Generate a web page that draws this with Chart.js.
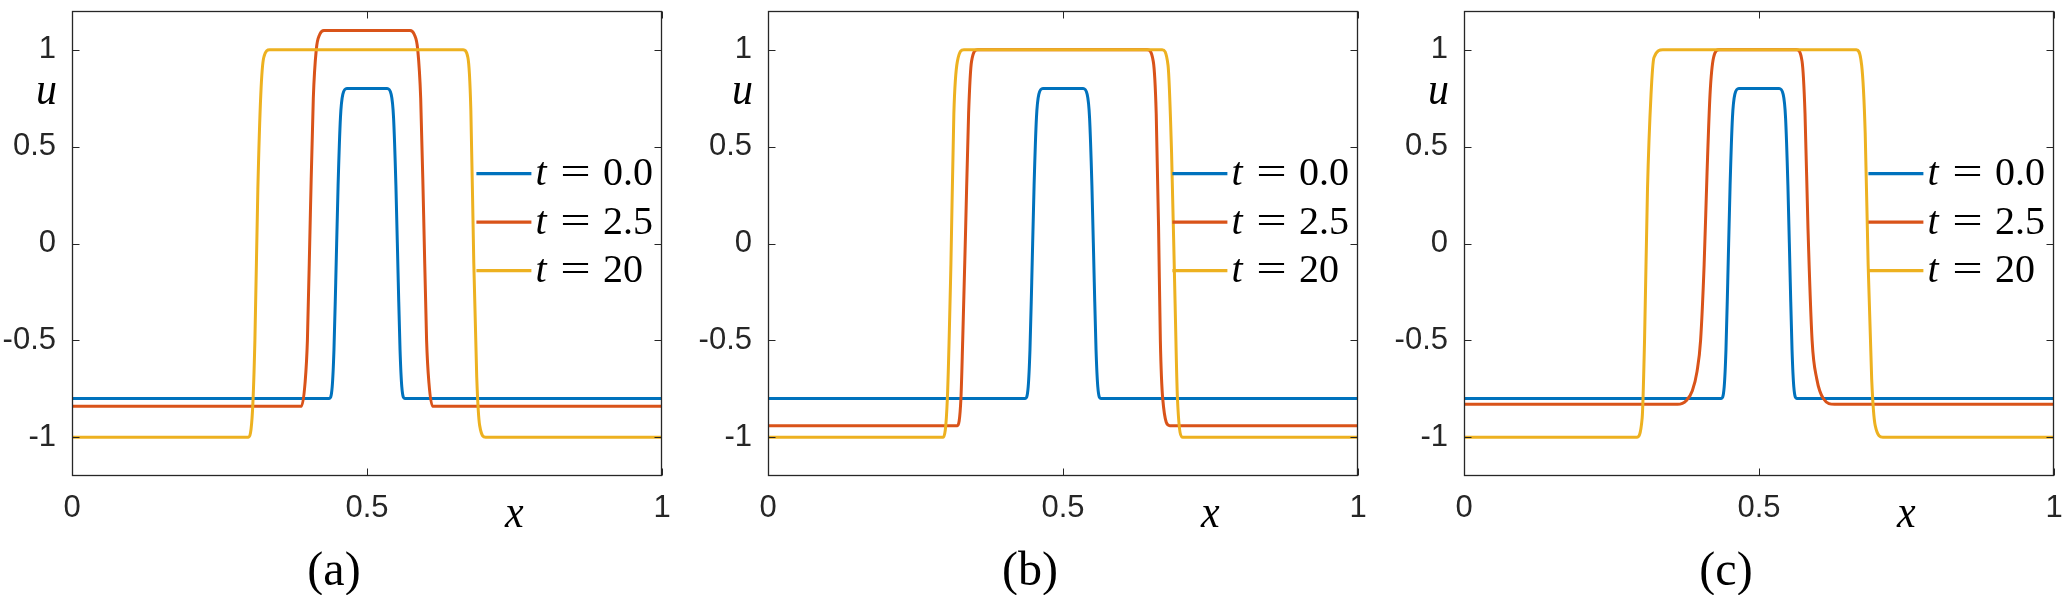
<!DOCTYPE html>
<html><head><meta charset="utf-8">
<script src="https://cdn.jsdelivr.net/npm/chart.js@4.4.1/dist/chart.umd.min.js"></script>
<style>
html,body{margin:0;padding:0;background:#fff;width:2069px;height:595px;overflow:hidden;}
canvas{position:absolute;top:0;}
</style></head><body>
<canvas id="pa" style="left:0px" width="696" height="595"></canvas>
<canvas id="pb" style="left:696px" width="696" height="595"></canvas>
<canvas id="pc" style="left:1392px" width="677" height="595"></canvas>
<script>
// ---------- data ----------
const xTicks = [0, 0.5, 1];
const yTicks = [-1, -0.5, 0, 0.5, 1];
const xRange = [0, 1];
const yRange = [-1.2, 1.2];
const seriesLabels = ['t = 0.0', 't = 2.5', 't = 20'];
const seriesColors = ['#0072BD', '#D95319', '#EDB120'];
const panelCaptions = ['(a)', '(b)', '(c)'];

// t = 0.0 : same initial profile in all three panels
const t0X = [0, 0.436, 0.441, 0.444, 0.447, 0.451, 0.455, 0.459, 0.466, 0.534, 0.541, 0.545, 0.549, 0.553, 0.556, 0.559, 0.564, 1];
const t0Y = [-0.8, -0.8, -0.74, -0.55, -0.2, 0.3, 0.65, 0.77, 0.8, 0.8, 0.77, 0.65, 0.3, -0.2, -0.55, -0.74, -0.8, -0.8];

// panel (a)
const aT25X = [0, 0.389, 0.395, 0.399, 0.404, 0.409, 0.414, 0.420, 0.427, 0.573, 0.580, 0.586, 0.591, 0.596, 0.601, 0.605, 0.611, 1];
const aT25Y = [-0.84, -0.84, -0.72, -0.5, 0.15, 0.75, 1.0, 1.08, 1.1, 1.1, 1.08, 1.0, 0.75, 0.15, -0.5, -0.72, -0.84, -0.84];
const aT20X = [0, 0.299, 0.306, 0.310, 0.315, 0.320, 0.325, 0.335, 0.663, 0.671, 0.676, 0.681, 0.686, 0.691, 0.701, 1];
const aT20Y = [-1, -1, -0.86, -0.5, 0.28, 0.77, 0.96, 1, 1, 0.96, 0.69, -0.1, -0.69, -0.94, -1, -1];

// panel (b)
const bT25X = [0, 0.321, 0.327, 0.330, 0.335, 0.340, 0.345, 0.355, 0.643, 0.653, 0.658, 0.662, 0.665, 0.669, 0.681, 1];
const bT25Y = [-0.94, -0.94, -0.8, -0.5, 0.08, 0.67, 0.94, 1, 1, 0.94, 0.67, 0.08, -0.5, -0.8, -0.94, -0.94];
const bT20X = [0, 0.297, 0.304, 0.310, 0.315, 0.321, 0.332, 0.668, 0.678, 0.684, 0.690, 0.694, 0.703, 1];
const bT20Y = [-1, -1, -0.8, -0.11, 0.67, 0.94, 1, 1, 0.92, 0.47, -0.31, -0.8, -1, -1];

// panel (c)
const cT25X = [0, 0.362, 0.377, 0.387, 0.395, 0.401, 0.407, 0.412, 0.417, 0.423, 0.432, 0.564, 0.573, 0.578, 0.583, 0.590, 0.598, 0.609, 0.628, 1];
const cT25Y = [-0.83, -0.83, -0.81, -0.76, -0.66, -0.5, -0.11, 0.37, 0.77, 0.96, 1, 1, 0.94, 0.67, 0.08, -0.5, -0.7, -0.8, -0.83, -0.83];
const cT20X = [0, 0.293, 0.302, 0.306, 0.311, 0.317, 0.322, 0.337, 0.665, 0.674, 0.680, 0.685, 0.691, 0.697, 0.710, 1];
const cT20Y = [-1, -1, -0.9, -0.5, 0.28, 0.77, 0.96, 1, 1, 0.92, 0.57, -0.11, -0.7, -0.94, -1, -1];

// ---------- drawing ----------
const axisColor = '#262626';
const sansFont = '"Liberation Sans", Arial, Helvetica, sans-serif';
const serifFont = '"Liberation Serif", "Times New Roman", serif';

function pts(xs, ys) { return xs.map((x, i) => ({ x: x, y: ys[i] })); }

function drawText(ctx, text, font, x, y, align, sx, sy) {
  ctx.save();
  ctx.translate(x, y);
  ctx.scale(sx, sy);
  ctx.font = font;
  ctx.textAlign = align;
  ctx.textBaseline = 'alphabetic';
  ctx.fillStyle = '#000';
  ctx.fillText(text, 0, 0);
  ctx.restore();
}

const boxPlugin = {
  id: 'matlabBox',
  afterDraw(chart, args, opts) {
    const ctx = chart.ctx;
    const ca = chart.chartArea;
    const xs = chart.scales.x, ys = chart.scales.y;
    ctx.save();
    // frame
    ctx.strokeStyle = axisColor;
    ctx.lineWidth = 1.3;
    const L = Math.round(ca.left) + 0.5, R = Math.round(ca.right) - 0.5;
    const T = Math.round(ca.top) + 0.5, B = Math.round(ca.bottom) - 0.5;
    ctx.strokeRect(L, T, R - L, B - T);
    // inward ticks
    const tl = 7;
    ctx.lineWidth = 1;
    ctx.beginPath();
    xTicks.forEach(v => {
      const px = Math.round(xs.getPixelForValue(v)) + 0.5;
      ctx.moveTo(px, B); ctx.lineTo(px, B - tl);
      ctx.moveTo(px, T); ctx.lineTo(px, T + tl);
    });
    yTicks.forEach(v => {
      const py = Math.round(ys.getPixelForValue(v)) + 0.5;
      ctx.moveTo(L, py); ctx.lineTo(L + tl, py);
      ctx.moveTo(R, py); ctx.lineTo(R - tl, py);
    });
    ctx.stroke();

    // legend
    const ds = chart.data.datasets;
    ds.forEach((d, i) => {
      const rowY = ca.top + 162.7 + i * 48.5;
      ctx.strokeStyle = d.borderColor;
      ctx.lineWidth = 3.2;
      ctx.beginPath();
      ctx.moveTo(ca.left + 404.4, rowY);
      ctx.lineTo(ca.left + 459.4, rowY);
      ctx.stroke();
      const parts = d.label.split(' = ');
      const base = rowY + 11.7;
      drawText(ctx, parts[0], 'italic 40px ' + serifFont, ca.left + 463.5, base, 'left', 1, 1);
      drawText(ctx, '=', '40px ' + serifFont, ca.left + 503.5, base, 'center', 1.35, 1);
      drawText(ctx, parts[1], '40px ' + serifFont, ca.left + 531, base, 'left', 1, 1);
    });

    // axis labels
    drawText(ctx, 'x', 'italic 42px ' + serifFont, ca.left + 442.2, 526.5, 'center', 1, 1.12);
    drawText(ctx, 'u', 'italic 42px ' + serifFont, ca.left - 25.6, ca.top + 92.6, 'center', 1, 1.12);
    // caption
    drawText(ctx, opts.caption, '48px ' + serifFont, ca.left + 262, 584.5, 'center', 1, 1);
    ctx.restore();
  }
};

function makePanel(id, redX, redY, yelX, yelY, caption, canvasW) {
  const series = [
    { xs: t0X, ys: t0Y },
    { xs: redX, ys: redY },
    { xs: yelX, ys: yelY }
  ];
  const datasets = series.map((s, i) => ({
    label: seriesLabels[i],
    data: pts(s.xs, s.ys),
    borderColor: seriesColors[i],
    backgroundColor: seriesColors[i],
    borderWidth: 3,
    pointRadius: 0,
    fill: false,
    cubicInterpolationMode: 'monotone',
    order: 2 - i
  }));
  const tickFont = { family: sansFont, size: 31 };
  return new Chart(document.getElementById(id), {
    type: 'line',
    data: { datasets: datasets },
    options: {
      responsive: false,
      animation: false,
      events: [],
      layout: { autoPadding: false, padding: { left: 0, right: canvasW - 662, top: 11, bottom: 0 } },
      plugins: {
        legend: { display: false },
        tooltip: { enabled: false },
        matlabBox: { caption: caption }
      },
      scales: {
        x: {
          type: 'linear', min: xRange[0], max: xRange[1],
          afterBuildTicks: s => { s.ticks = xTicks.map(v => ({ value: v })); },
          afterFit: s => { s.height = 119; s.paddingLeft = 0; s.paddingRight = 0; },
          grid: { display: false, drawTicks: false },
          border: { display: false },
          ticks: { padding: 14, color: axisColor, font: tickFont, maxRotation: 0, autoSkip: false,
                   callback: v => String(v) }
        },
        y: {
          type: 'linear', min: yRange[0], max: yRange[1],
          afterBuildTicks: s => { s.ticks = yTicks.map(v => ({ value: v })); },
          afterFit: s => { s.width = 72; s.paddingTop = 0; s.paddingBottom = 0; },
          grid: { display: false, drawTicks: false },
          border: { display: false },
          ticks: { padding: 16, color: axisColor, font: tickFont, autoSkip: false,
                   callback: v => String(v) }
        }
      }
    },
    plugins: [boxPlugin]
  });
}

makePanel('pa', aT25X, aT25Y, aT20X, aT20Y, panelCaptions[0], 696);
makePanel('pb', bT25X, bT25Y, bT20X, bT20Y, panelCaptions[1], 696);
makePanel('pc', cT25X, cT25Y, cT20X, cT20Y, panelCaptions[2], 677);
</script>
</body></html>
